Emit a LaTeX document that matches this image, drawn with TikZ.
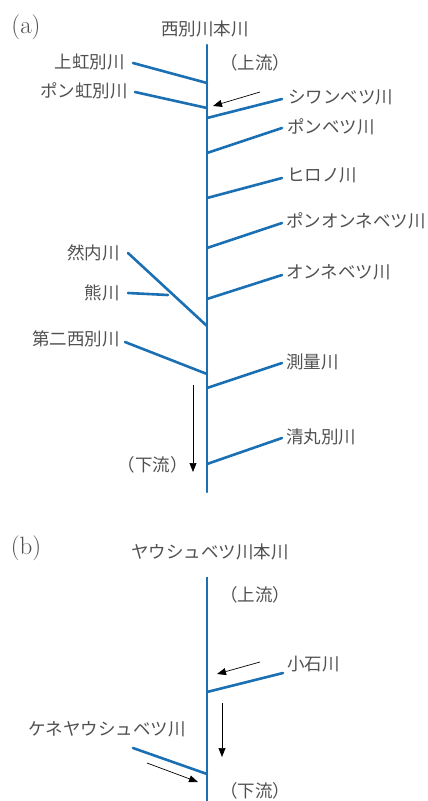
\documentclass[tikz,border=0pt]{standalone}
\usepackage{fontspec}
\newfontfamily\jp{Noto Sans CJK JP}[Scale=1]
\usetikzlibrary{arrows.meta}
\definecolor{riv}{HTML}{1B6FB3}
\definecolor{txt}{HTML}{505050}
\tikzset{
  river/.style={draw=riv, line width=2.6pt, line cap=round},
  lbl/.style={font=\jp\fontsize{17.5}{19}\selectfont, text=txt, inner sep=1pt},
  panel/.style={font=\fontsize{25}{28}\selectfont, text=txt, inner sep=0pt},
  flow/.style={draw=black, line width=0.7pt, -{Triangle[length=9pt,width=7pt]}}
}
\begin{document}
\begin{tikzpicture}[x=1pt,y=-1pt]
\useasboundingbox (0,0) rectangle (428,801);
% ---------- (a) ----------
\node[panel] (pa) at (26,27) {(a)};
\node[lbl] (ta) at (205,29) {西別川本川};
\node[lbl] (ua) at (255,63) {（上流）};
\coordinate (a0) at (207,45);
\coordinate (a1) at (207,492);
\draw[river] (a0) -- (a1);
% left tributaries
\node[lbl, anchor=east] (kami) at (126,62) {上虹別川};
\coordinate (kami1) at (133,63); \coordinate (kami2) at (207,83);
\draw[river] (kami1) -- (kami2);
\node[lbl, anchor=east] (pon) at (129,91) {ポン虹別川};
\coordinate (pon1) at (135,92); \coordinate (pon2) at (207,108);
\draw[river] (pon1) -- (pon2);
\node[lbl, anchor=east] (shika) at (121,253) {然内川};
\coordinate (sh1) at (128,253); \coordinate (sh2) at (207,326);
\draw[river] (sh1) -- (sh2);
\node[lbl, anchor=east] (kuma) at (121,293) {熊川};
\coordinate (ku1) at (128,293); \coordinate (ku2) at (168,295);
\draw[river] (ku1) -- (ku2);
\node[lbl, anchor=east] (dai) at (121,339) {第二西別川};
\coordinate (da1) at (125,342); \coordinate (da2) at (207,374);
\draw[river] (da1) -- (da2);
% right tributaries
\node[lbl, anchor=west] (shiwan) at (287,97) {シワンベツ川};
\coordinate (sw1) at (207,118); \coordinate (sw2) at (282,99);
\draw[river] (sw1) -- (sw2);
\node[lbl, anchor=west] (ponbetsu) at (286,127) {ポンベツ川};
\coordinate (pb1) at (207,153); \coordinate (pb2) at (282,128);
\draw[river] (pb1) -- (pb2);
\node[lbl, anchor=west] (hiro) at (286,175) {ヒロノ川};
\coordinate (hi1) at (207,198); \coordinate (hi2) at (282,178);
\draw[river] (hi1) -- (hi2);
\node[lbl, anchor=west] (ponon) at (285,221) {ポンオンネベツ川};
\coordinate (po1) at (207,248); \coordinate (po2) at (282,223);
\draw[river] (po1) -- (po2);
\node[lbl, anchor=west] (onne) at (285,272) {オンネベツ川};
\coordinate (on1) at (207,299); \coordinate (on2) at (282,275);
\draw[river] (on1) -- (on2);
\node[lbl, anchor=west] (sokuryo) at (285,362) {測量川};
\coordinate (so1) at (207,388); \coordinate (so2) at (282,363);
\draw[river] (so1) -- (so2);
\node[lbl, anchor=west] (kiyo) at (285,437) {清丸別川};
\coordinate (ki1) at (207,464); \coordinate (ki2) at (282,438);
\draw[river] (ki1) -- (ki2);
% arrows
\coordinate (arA1) at (260,92); \coordinate (arA2) at (213,106);
\draw[flow] (arA1) -- (arA2);
\coordinate (dA1) at (193,385); \coordinate (dA2) at (193,472);
\draw[flow] (dA1) -- (dA2);
\node[lbl, anchor=east] (da) at (189,465) {（下流）};
% ---------- (b) ----------
\node[panel] (pb) at (26,548) {(b)};
\node[lbl] (tb) at (210,552) {ヤウシュベツ川本川};
\node[lbl] (ub) at (255,595) {（上流）};
\coordinate (b0) at (207,577);
\coordinate (b1) at (207,805);
\draw[river, line cap=butt] (b0) -- (b1);
\node[lbl, anchor=west] (koishi) at (286,664) {小石川};
\coordinate (ko1) at (207,692); \coordinate (ko2) at (283,673);
\draw[river] (ko1) -- (ko2);
\node[lbl] (kene) at (107,729) {ケネヤウシュベツ川};
\coordinate (ke1) at (133,748); \coordinate (ke2) at (207,774);
\draw[river] (ke1) -- (ke2);
\coordinate (arB1) at (260,662); \coordinate (arB2) at (217,674);
\draw[flow] (arB1) -- (arB2);
\coordinate (dB1) at (222,703); \coordinate (dB2) at (222,757);
\draw[flow] (dB1) -- (dB2);
\coordinate (arC1) at (147,763); \coordinate (arC2) at (198,782);
\draw[flow] (arC1) -- (arC2);
\node[lbl] (db) at (255,791) {（下流）};
\end{tikzpicture}
\end{document}
